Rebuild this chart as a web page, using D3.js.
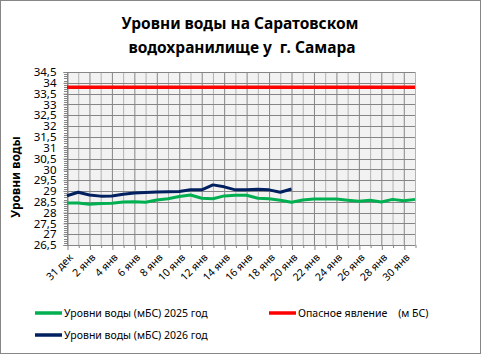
<!DOCTYPE html>
<html>
<head>
<meta charset="utf-8">
<script src="https://cdn.jsdelivr.net/npm/d3@7"></script>
<style>
  body { margin: 0; background: #fff; }
  svg text { font-family: "Noto Sans", "DejaVu Sans", sans-serif; }
</style>
</head>
<body>
<div id="container"></div>
<script>
/* DATA */
const dates = ['31 дек', '1 янв', '2 янв', '3 янв', '4 янв', '5 янв', '6 янв', '7 янв', '8 янв', '9 янв',
  '10 янв', '11 янв', '12 янв', '13 янв', '14 янв', '15 янв', '16 янв', '17 янв', '18 янв', '19 янв',
  '20 янв', '21 янв', '22 янв', '23 янв', '24 янв', '25 янв', '26 янв', '27 янв', '28 янв', '29 янв',
  '30 янв', '31 янв']

// уровни 2025 (мБС)
const level2025 = [28.44, 28.44, 28.38, 28.42, 28.43, 28.49, 28.50, 28.48, 28.58, 28.64,
  28.74, 28.81, 28.66, 28.64, 28.77, 28.80, 28.80, 28.66, 28.64, 28.57,
  28.48, 28.58, 28.63, 28.63, 28.63, 28.57, 28.52, 28.57, 28.49, 28.61,
  28.55, 28.61]

// уровни 2026 (мБС) - по 20 янв
const level2026 = [28.78, 28.94, 28.81, 28.76, 28.77, 28.85, 28.90, 28.93, 28.95, 28.96,
  28.97, 29.05, 29.05, 29.28, 29.19, 29.05, 29.05, 29.08, 29.05, 28.94,
  29.09]

// опасное явление
const danger = dates.map(() => 33.8)

const yTicks = d3.range(26.5, 34.51, 0.5)

const seriesNames = ['Уровни воды (мБС) 2025 год', 'Опасное явление    (м БС)', 'Уровни воды (мБС) 2026 год']

/* CONSTANTS */
const width = 481,
  height = 354,
  margin = { top: 72, bottom: 109, left: 67, right: 66 }

const svg = d3.select('#container')
  .append('svg')
  .attr('width', width)
  .attr('height', height)

// outer frame
svg.append('rect')
  .attr('x', 0.5).attr('y', 0.5)
  .attr('width', width - 1).attr('height', height - 1)
  .attr('fill', '#fff')
  .attr('stroke', '#868686')

// scales
const xScale = d3.scalePoint()
  .domain(dates)
  .range([margin.left, width - margin.right])

const yScale = d3.scaleLinear()
  .domain([26.5, 34.5])
  .range([height - margin.bottom, margin.top])

// plot background
svg.append('rect')
  .attr('x', margin.left)
  .attr('y', margin.top)
  .attr('width', width - margin.right - margin.left)
  .attr('height', height - margin.bottom - margin.top)
  .attr('fill', '#f2f2f2')

// vertical grid (dark on labelled days)
svg.append('g')
  .selectAll('line')
  .data(dates)
  .join('line')
  .attr('x1', d => xScale(d) + 0.5)
  .attr('x2', d => xScale(d) + 0.5)
  .attr('y1', margin.top)
  .attr('y2', height - margin.bottom)
  .attr('stroke', (d, i) => i % 2 === 0 ? '#858585' : '#b3b3b3')
  .attr('stroke-width', 1)

// horizontal grid
svg.append('g')
  .selectAll('line')
  .data(yTicks)
  .join('line')
  .attr('x1', margin.left)
  .attr('x2', width - margin.right)
  .attr('y1', d => Math.round(yScale(d)) + 0.5)
  .attr('y2', d => Math.round(yScale(d)) + 0.5)
  .attr('stroke', '#858585')

// y axis
const yAxis = d3.axisLeft(yScale)
  .tickValues(yTicks)
  .tickSize(4)
  .tickPadding(7)
  .tickFormat(d => d3.format('~g')(d).replace('.', ','))

const yAxisGroup = svg.append('g')
  .attr('transform', `translate(${margin.left + 0.5}, 0)`)
  .call(yAxis)
yAxisGroup.select('.domain').attr('stroke', '#858585')
yAxisGroup.selectAll('.tick line').attr('stroke', '#858585')
yAxisGroup.selectAll('text')
  .attr('fill', '#000')
  .style('font-size', '11.5px')

// y minor ticks
svg.append('g')
  .selectAll('line')
  .data(d3.range(26.5, 34.5, 0.1))
  .join('line')
  .attr('x1', margin.left - 3)
  .attr('x2', margin.left)
  .attr('y1', d => Math.round(yScale(d)) + 0.5)
  .attr('y2', d => Math.round(yScale(d)) + 0.5)
  .attr('stroke', '#858585')

// x axis
const xAxis = d3.axisBottom(xScale)
  .tickSize(0)
  .tickFormat((d, i) => i % 2 === 0 ? d : '')

const xAxisGroup = svg.append('g')
  .attr('transform', `translate(0, ${height - margin.bottom})`)
  .call(xAxis)
xAxisGroup.select('.domain').attr('stroke', '#858585')
xAxisGroup.selectAll('.tick').append('line')
  .attr('x1', 0.5).attr('x2', 0.5)
  .attr('y1', 0)
  .attr('y2', (d, i) => i % 2 === 0 ? 5 : 3)
  .attr('stroke', '#858585')
xAxisGroup.selectAll('text')
  .attr('fill', '#000')
  .style('font-size', '10.5px')
  .attr('text-anchor', 'end')
  .attr('dy', 0)
  .attr('transform', 'translate(4, 11) rotate(-45)')

// lines
const line = d3.line()
  .x((d, i) => xScale(dates[i]))
  .y(d => yScale(d))

svg.append('path')
  .datum(level2025)
  .attr('fill', 'none')
  .attr('stroke', '#00b050')
  .attr('stroke-width', 3)
  .attr('stroke-linejoin', 'round')
  .attr('d', line)

svg.append('path')
  .datum(danger)
  .attr('fill', 'none')
  .attr('stroke', '#ff0000')
  .attr('stroke-width', 3.5)
  .attr('d', line)

svg.append('path')
  .datum(level2026)
  .attr('fill', 'none')
  .attr('stroke', '#002060')
  .attr('stroke-width', 3)
  .attr('stroke-linejoin', 'round')
  .attr('d', line)

// title
const title = svg.append('text')
  .attr('text-anchor', 'middle')
  .style('font-size', '15.5px')
  .style('font-weight', 'bold')
  .style('white-space', 'pre')
title.append('tspan').attr('x', 240).attr('y', 29).text('Уровни воды на Саратовском')
title.append('tspan').attr('x', 242).attr('y', 53).text('водохранилище у  г. Самара')

// y axis title
svg.append('text')
  .attr('transform', 'translate(20, 177) rotate(-90)')
  .attr('text-anchor', 'middle')
  .style('font-size', '12px')
  .style('font-weight', 'bold')
  .text('Уровни воды')

// legend
const legendItems = [
  { name: seriesNames[0], color: '#00b050', x: 35, y: 313 },
  { name: seriesNames[1], color: '#ff0000', x: 269, y: 313 },
  { name: seriesNames[2], color: '#002060', x: 35, y: 335 }
]
const legend = svg.append('g')
  .selectAll('g')
  .data(legendItems)
  .join('g')
  .attr('transform', d => `translate(${d.x}, ${d.y})`)
legend.append('line')
  .attr('x1', 0).attr('x2', 27)
  .attr('stroke', d => d.color)
  .attr('stroke-width', 3.5)
legend.append('text')
  .attr('x', 29)
  .attr('dy', '0.35em')
  .style('font-size', '10.5px')
  .style('white-space', 'pre')
  .text(d => d.name)
</script>
</body>
</html>
